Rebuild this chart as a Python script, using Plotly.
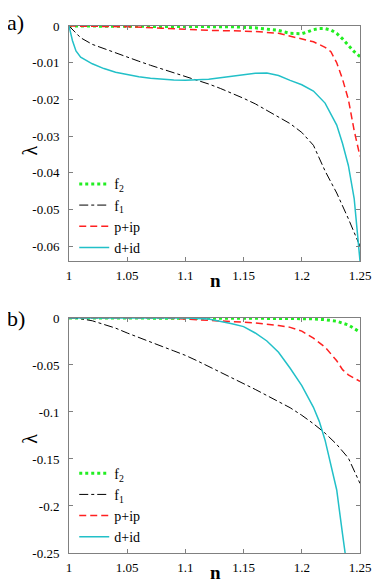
import plotly.graph_objects as go

# panel a) data
a_f2_n = [1.0, 1.10, 1.14, 1.16, 1.17, 1.18, 1.19, 1.20, 1.205, 1.21, 1.215, 1.22, 1.225, 1.23, 1.235, 1.24, 1.245, 1.25]
a_f2 = [0, 0, -0.0002, -0.0005, -0.0008, -0.0012, -0.0020, -0.0021, -0.0016, -0.0010, -0.0007, -0.0007, -0.0011, -0.0020, -0.0035, -0.0052, -0.0070, -0.0083]

a_f1_n = [1.0, 1.005, 1.01, 1.02, 1.03, 1.04, 1.05, 1.06, 1.07, 1.08, 1.09, 1.10, 1.11, 1.12, 1.13, 1.14, 1.15,
          1.16, 1.17, 1.18, 1.19, 1.20, 1.21, 1.22, 1.23, 1.24, 1.25]
a_f1 = [0, -0.0016, -0.0032, -0.0050, -0.0062, -0.0073, -0.0085, -0.0096, -0.0107, -0.0117, -0.0127, -0.0137,
        -0.0147, -0.0158, -0.0170, -0.0183, -0.0197, -0.0212, -0.0230, -0.0248, -0.0266, -0.0290, -0.0325,
        -0.0395, -0.0455, -0.0525, -0.0600]

a_p_n = [1.0, 1.05, 1.08, 1.10, 1.12, 1.14, 1.16, 1.18, 1.19, 1.20, 1.21, 1.22, 1.225, 1.23, 1.235, 1.24, 1.245, 1.25]
a_p = [0, -0.0002, -0.0006, -0.0010, -0.0012, -0.0013, -0.0015, -0.0020, -0.0027, -0.0034, -0.0043, -0.0058,
       -0.0070, -0.0100, -0.0145, -0.0200, -0.0285, -0.0355]

a_d_n = [1.0, 1.003, 1.006, 1.01, 1.02, 1.03, 1.04, 1.05, 1.06, 1.07, 1.08, 1.09, 1.10, 1.11, 1.12, 1.13, 1.14,
         1.15, 1.16, 1.17, 1.18, 1.19, 1.20, 1.21, 1.22, 1.23, 1.235, 1.24, 1.245, 1.25]
a_d = [0, -0.0040, -0.0068, -0.0085, -0.0103, -0.0116, -0.0126, -0.0133, -0.0138, -0.0142, -0.0145, -0.0147,
       -0.0148, -0.0147, -0.0145, -0.0141, -0.0137, -0.0133, -0.0129, -0.0128, -0.0135, -0.0148, -0.0160,
       -0.0177, -0.0210, -0.0270, -0.0320, -0.0380, -0.0470, -0.0640]

# panel b) data
b_f2_n = [1.0, 1.15, 1.19, 1.21, 1.22, 1.23, 1.24, 1.25]
b_f2 = [0, 0, -0.0005, -0.0010, -0.0018, -0.0035, -0.0075, -0.0150]

b_f1_n = [1.0, 1.01, 1.02, 1.03, 1.04, 1.05, 1.06, 1.07, 1.08, 1.09, 1.10, 1.11, 1.12, 1.13, 1.14, 1.15,
          1.16, 1.17, 1.18, 1.19, 1.20, 1.21, 1.22, 1.23, 1.24, 1.25]
b_f1 = [0, -0.0008, -0.0030, -0.0068, -0.0108, -0.0160, -0.0210, -0.0258, -0.0303, -0.0350, -0.0398, -0.0455,
        -0.0515, -0.0577, -0.0638, -0.0698, -0.0760, -0.0825, -0.0890, -0.0955, -0.1035, -0.1125, -0.1225,
        -0.1345, -0.1490, -0.1760]

b_p_n = [1.0, 1.08, 1.10, 1.12, 1.14, 1.16, 1.18, 1.19, 1.20, 1.21, 1.22, 1.23, 1.235, 1.24, 1.245, 1.25]
b_p = [0, 0, -0.0012, -0.0025, -0.0040, -0.0052, -0.0080, -0.0100, -0.0140, -0.0215, -0.0310, -0.0455,
       -0.0550, -0.0605, -0.0640, -0.0675]

b_d_n = [1.0, 1.10, 1.12, 1.13, 1.14, 1.15, 1.16, 1.17, 1.18, 1.19, 1.20, 1.21, 1.215, 1.22, 1.225, 1.23, 1.235, 1.24]
b_d = [0, 0, -0.0010, -0.0033, -0.0062, -0.0092, -0.0160, -0.0245, -0.0365, -0.0535, -0.0720, -0.0950,
       -0.1100, -0.1300, -0.1550, -0.1830, -0.2300, -0.2750]

# tick labels
x_ticks = [1.0, 1.05, 1.1, 1.15, 1.2, 1.25]
x_labels = ["1", "1.05", "1.1", "1.15", "1.2", "1.25"]
a_yticks = [0, -0.01, -0.02, -0.03, -0.04, -0.05, -0.06]
a_ylabels = ["0", "-0.01", "-0.02", "-0.03", "-0.04", "-0.05", "-0.06"]
b_yticks = [0, -0.05, -0.1, -0.15, -0.2, -0.25]
b_ylabels = ["0", "-0.05", "-0.1", "-0.15", "-0.2", "-0.25"]

names = ["f<sub>2</sub>", "f<sub>1</sub>", "p+ip", "d+id"]
styles = [dict(color="#22ee22", width=3, dash="dot"),
          dict(color="black", width=1, dash="dashdot"),
          dict(color="#ff2020", width=1.5, dash="7px,4px"),
          dict(color="#22c0c8", width=1.5, dash="solid")]

FONT = "Liberation Serif"

fig = go.Figure()
panel_a = [(a_f2_n, a_f2), (a_f1_n, a_f1), (a_p_n, a_p), (a_d_n, a_d)]
panel_b = [(b_f2_n, b_f2), (b_f1_n, b_f1), (b_p_n, b_p), (b_d_n, b_d)]
for i, (xs, ys) in enumerate(panel_a):
    fig.add_trace(go.Scatter(x=xs, y=ys, mode="lines", name=names[i], line=styles[i],
                             xaxis="x", yaxis="y", legend="legend"))
for i, (xs, ys) in enumerate(panel_b):
    fig.add_trace(go.Scatter(x=xs, y=ys, mode="lines", name=names[i], line=styles[i],
                             xaxis="x2", yaxis="y2", legend="legend2"))

axis_style = dict(showline=True, linecolor="#808080", linewidth=1, mirror="allticks", automargin=False,
                  ticks="inside", ticklen=4, tickcolor="#808080", showgrid=False, zeroline=False,
                  tickfont=dict(family=FONT, size=13, color="black"))

leg = dict(font=dict(family=FONT, size=14, color="black"), bgcolor="rgba(0,0,0,0)",
           tracegroupgap=0, itemwidth=30, xanchor="left", yanchor="top")

# the page body adds an 8px offset, so the figure is 8px smaller than the window
fig.update_layout(
    template="none",
    font=dict(family=FONT, size=13, color="black"),
    width=382, height=577,
    margin=dict(l=61, r=30, t=18, b=32),
    paper_bgcolor="white", plot_bgcolor="white",
    xaxis=dict(domain=[0, 1], range=[1.0, 1.25], anchor="y", tickvals=x_ticks, ticktext=x_labels,
               ticklabelstandoff=2, **axis_style),
    yaxis=dict(domain=[0.5535, 1], range=[-0.0641, 0], anchor="x", tickvals=a_yticks, ticktext=a_ylabels,
               ticklabelstandoff=6, **axis_style),
    xaxis2=dict(domain=[0, 1], range=[1.0, 1.25], anchor="y2", tickvals=x_ticks, ticktext=x_labels,
                ticklabelstandoff=2, **axis_style),
    yaxis2=dict(domain=[0, 0.446], range=[-0.25, 0], anchor="x2", tickvals=b_yticks, ticktext=b_ylabels,
                ticklabelstandoff=6, **axis_style),
    legend=dict(x=0.018, y=0.73, **leg),
    legend2=dict(x=0.018, y=0.181, **leg),
    showlegend=True,
)

# panel labels and axis titles
fig.add_annotation(text="a)", x=-0.219, y=1.0335, xref="paper", yref="paper", showarrow=False,
                   font=dict(family=FONT, size=22, color="black"), xanchor="left", yanchor="top")
fig.add_annotation(text="b)", x=-0.219, y=0.4456, xref="paper", yref="paper", showarrow=False,
                   font=dict(family=FONT, size=22, color="black"), xanchor="left", yanchor="middle")
for y in [0.778, 0.2045]:
    fig.add_annotation(text="λ", x=-0.177, y=y, xref="paper", yref="paper", showarrow=False, textangle=-90,
                       font=dict(family=FONT, size=20, color="black"))
for y in [0.5177, -0.0366]:
    fig.add_annotation(text="<b>n</b>", x=0.505, y=y, xref="paper", yref="paper", showarrow=False,
                       font=dict(family=FONT, size=19, color="black"), yanchor="middle")

fig.write_html("out.html")
